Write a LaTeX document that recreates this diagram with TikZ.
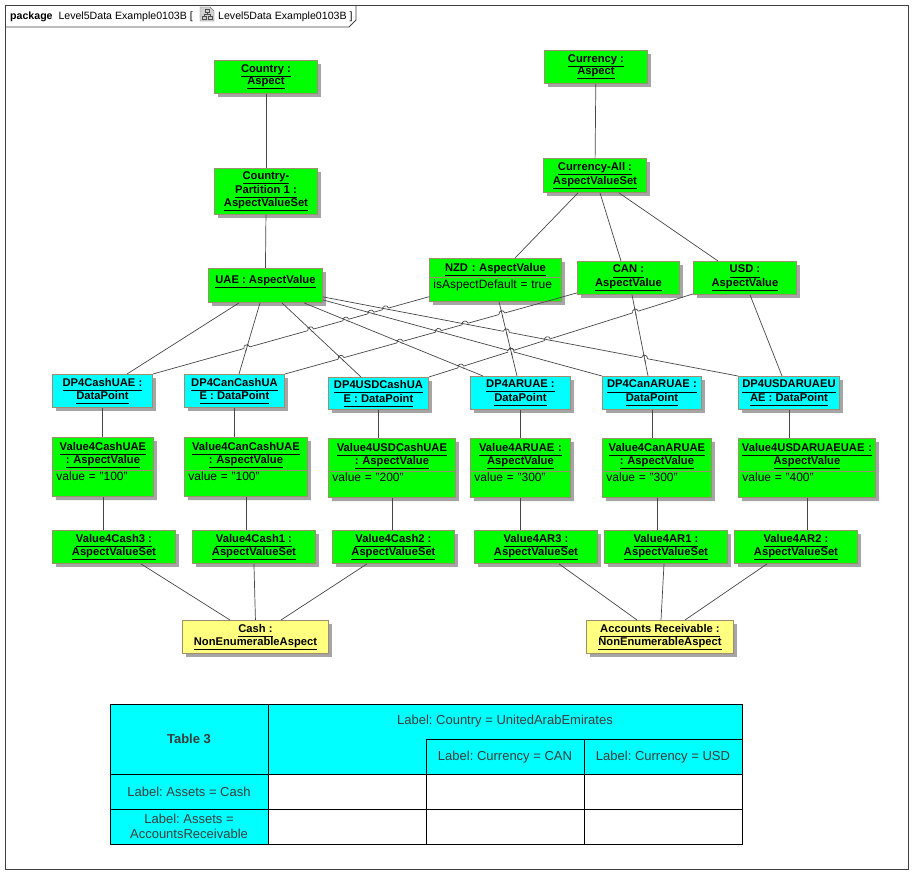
\documentclass[tikz,border=0pt]{standalone}
\usepackage{fontspec}
\setmainfont{Liberation Sans}
\usetikzlibrary{shapes.multipart, shadows, calc}
\frenchspacing

\definecolor{umlgreen}{RGB}{0,255,0}
\definecolor{umlcyan}{RGB}{0,255,255}
\definecolor{umlyellow}{RGB}{255,255,128}
\definecolor{umlborder}{RGB}{160,140,110}
\definecolor{umlshadow}{RGB}{165,165,165}
\definecolor{umlline}{RGB}{70,70,70}
\definecolor{frameline}{RGB}{64,64,64}
\definecolor{tabletext}{RGB}{60,60,60}

\newcommand{\uname}[1]{\underline{#1\vphantom{Ap}}}
\newcommand{\titlestrut}{\rule{0pt}{11pt}}
\newcommand{\valuestrut}{\rule[-14pt]{0pt}{12pt}}
\newcommand{\titleline}[1]{\hbox to \hsize{\hss\uname{#1}\hss}}
\newcommand{\valuepart}{\nodepart{two}\mdseries\fontsize{12}{14}\selectfont}

\tikzset{
	umlbox/.style = {draw = umlborder,
					 line width = 0.9pt,
					 shape = rectangle,
					 inner sep = 1.5pt,
					 align = center,
					 anchor = north west,
					 font = \fontsize{11.2}{12.3}\selectfont\bfseries,
					 drop shadow = {shadow xshift = 3.5pt,
									shadow yshift = -3.5pt,
									fill = umlshadow,
									opacity = 1}},
	greenbox/.style = {umlbox, fill = umlgreen},
	cyanbox/.style = {umlbox, fill = umlcyan},
	yellowbox/.style = {umlbox, fill = umlyellow},
	valuebox/.style = {greenbox,
					   rectangle split,
					   rectangle split parts = 2,
					   inner xsep = 4pt,
					   align = left},
	link/.style = {draw = umlline, line width = 0.7pt},
	cell/.style = {font = \fontsize{13}{15}\selectfont,
				   text = tabletext,
				   align = center}
}

% #1,#2: west and east end of the line that jumps, #3,#4: ends of the line below it
\newcommand{\linehop}[4]{
	\coordinate (hopx) at (intersection of #1--#2 and #3--#4);
	\draw[draw = white, line width = 2.5pt] ($(hopx)!3pt!(#1)$) -- ($(hopx)!3pt!(#2)$);
	\draw[link] ($(hopx)!4pt!(#3)$) -- ($(hopx)!4pt!(#4)$);
	\draw[link] ($(hopx)!3pt!(#1)$) .. controls ($(hopx)!3pt!(#1)!4pt!90:(hopx)$)
		and ($(hopx)!3pt!(#2)!4pt!-90:(hopx)$) .. ($(hopx)!3pt!(#2)$);
}

\begin{document}
\begin{tikzpicture}[x = 1pt, y = -1pt]

	\useasboundingbox (0,0) rectangle (923,884);

	\draw[draw = frameline, line width = 0.9pt] (5,5) rectangle (908,869);
	\draw[draw = frameline, line width = 0.9pt] (5,27) -- (349,27) -- (356,20) -- (356,5);
	\draw (10,19) node[anchor = base west,
					   inner sep = 0pt,
					   font = \fontsize{10.6}{13}\selectfont] (pkgtitle)
			{\textbf{package}\ \ Level5Data Example0103B [};
	\draw[draw = black!55, fill = black!18] (200,7) -- (210,7) -- (214,11) -- (214,21) -- (200,21) -- cycle;
	\draw[draw = black!70, line width = 0.5pt] (205,9) rectangle (209,12)
		(202,16) rectangle (206,19) (208,16) rectangle (212,19)
		(207,12) -- (207,14) (204,14) -- (210,14) (204,14) -- (204,16) (210,14) -- (210,16);
	\draw (218,19) node[anchor = base west,
						inner sep = 0pt,
						font = \fontsize{10.6}{13}\selectfont] (pkgname)
			{Level5Data Example0103B ]};

	\draw (214,60) node[greenbox,
						minimum width = 103pt,
						minimum height = 33pt] (CountryAspect) {\uname{Country :}\\\uname{Aspect}};
	\draw (214,168) node[greenbox,
						 minimum width = 103pt,
						 minimum height = 46pt] (CountryPartition)
			{\uname{Country-}\\\uname{Partition 1 :}\\\uname{AspectValueSet}};
	\draw (544,50) node[greenbox,
						minimum width = 103pt,
						minimum height = 33pt] (CurrencyAspect) {\uname{Currency :}\\\uname{Aspect}};
	\draw (543,158) node[greenbox,
						 minimum width = 103pt,
						 minimum height = 34pt] (CurrencyAll) {\uname{Currency-All :}\\\uname{AspectValueSet}};

	\draw (208,268) node[greenbox,
						 minimum width = 114pt,
						 minimum height = 34pt] (UAE) {\uname{UAE : AspectValue}\\\mbox{}};
	\draw (429,258) node[valuebox,
						 text width = 124pt] (NZD)
			{\titlestrut\titleline{NZD : AspectValue}
			 \valuepart\rule[-11pt]{0pt}{12pt}isAspectDefault = true};
	\draw (577,261) node[greenbox,
						 minimum width = 102pt,
						 minimum height = 33pt] (CAN) {\uname{CAN :}\\\uname{AspectValue}};
	\draw (693,261) node[greenbox,
						 minimum width = 103pt,
						 minimum height = 33pt] (USD) {\uname{USD :}\\\uname{AspectValue}};

	\draw (52,374) node[cyanbox,
						minimum width = 100pt,
						minimum height = 33pt] (DPCashUAE) {\uname{DP4CashUAE :}\\\uname{DataPoint}};
	\draw (184,374) node[cyanbox,
						 minimum width = 100pt,
						 minimum height = 33pt] (DPCanCashUAE) {\uname{DP4CanCashUA}\\\uname{E : DataPoint}};
	\draw (328,377) node[cyanbox,
						 minimum width = 100pt,
						 minimum height = 32pt] (DPUSDCashUAE) {\uname{DP4USDCashUA}\\\uname{E : DataPoint}};
	\draw (470,376) node[cyanbox,
						 minimum width = 100pt,
						 minimum height = 33pt] (DPARUAE) {\uname{DP4ARUAE :}\\\uname{DataPoint}};
	\draw (602,376) node[cyanbox,
						 minimum width = 99pt,
						 minimum height = 33pt] (DPCanARUAE) {\uname{DP4CanARUAE :}\\\uname{DataPoint}};
	\draw (738,376) node[cyanbox,
						 minimum width = 101pt,
						 minimum height = 33pt] (DPUSDARUAE) {\uname{DP4USDARUAEU}\\\uname{AE : DataPoint}};

	\draw (52,437) node[valuebox,
						text width = 93pt] (ValCashUAE)
			{\titlestrut\titleline{Value4CashUAE}\\\titleline{: AspectValue}
			 \valuepart\valuestrut value = "100"};
	\draw (184,437) node[valuebox,
						 text width = 115pt] (ValCanCashUAE)
			{\titlestrut\titleline{Value4CanCashUAE}\\\titleline{: AspectValue}
			 \valuepart\valuestrut value = "100"};
	\draw (328,438) node[valuebox,
						 text width = 119pt] (ValUSDCashUAE)
			{\titlestrut\titleline{Value4USDCashUAE}\\\titleline{: AspectValue}
			 \valuepart\valuestrut value = "200"};
	\draw (470,438) node[valuebox,
						 text width = 92pt] (ValARUAE)
			{\titlestrut\titleline{Value4ARUAE :}\\\titleline{AspectValue}
			 \valuepart\valuestrut value = "300"};
	\draw (602,438) node[valuebox,
						 text width = 101pt] (ValCanARUAE)
			{\titlestrut\titleline{Value4CanARUAE}\\\titleline{: AspectValue}
			 \valuepart\valuestrut value = "300"};
	\draw (738,438) node[valuebox,
						 inner xsep = 1.5pt,
						 text width = 134pt] (ValUSDARUAE)
			{\titlestrut\titleline{Value4USDARUAEUAE :}\\\titleline{AspectValue}
			 \valuepart\valuestrut\hspace*{2.5pt}value = "400"};

	\draw (52,530) node[greenbox,
						minimum width = 123pt,
						minimum height = 33pt] (SetCash3) {\uname{Value4Cash3 :}\\\uname{AspectValueSet}};
	\draw (192,530) node[greenbox,
						 minimum width = 123pt,
						 minimum height = 33pt] (SetCash1) {\uname{Value4Cash1 :}\\\uname{AspectValueSet}};
	\draw (332,530) node[greenbox,
						 minimum width = 122pt,
						 minimum height = 33pt] (SetCash2) {\uname{Value4Cash2 :}\\\uname{AspectValueSet}};
	\draw (474,530) node[greenbox,
						 minimum width = 123pt,
						 minimum height = 33pt] (SetAR3) {\uname{Value4AR3 :}\\\uname{AspectValueSet}};
	\draw (604,530) node[greenbox,
						 minimum width = 123pt,
						 minimum height = 33pt] (SetAR1) {\uname{Value4AR1 :}\\\uname{AspectValueSet}};
	\draw (734,530) node[greenbox,
						 minimum width = 123pt,
						 minimum height = 33pt] (SetAR2) {\uname{Value4AR2 :}\\\uname{AspectValueSet}};

	\draw (182,620) node[yellowbox,
						 minimum width = 146pt,
						 minimum height = 33pt] (Cash) {\uname{Cash :}\\\uname{NonEnumerableAspect}};
	\draw (586,620) node[yellowbox,
						 minimum width = 147pt,
						 minimum height = 33pt] (AccRec) {\uname{Accounts Receivable :}\\\uname{NonEnumerableAspect}};

	\draw[link] (CountryAspect) -- (CountryPartition);
	\draw[link] (CountryPartition.south) -- (UAE.north);
	\draw[link] (CurrencyAspect) -- (CurrencyAll);
	\draw[link] ([xshift = 35pt]CurrencyAll.south west) -- ([xshift = 86pt]NZD.north west);
	\draw[link] ([xshift = 57pt]CurrencyAll.south west) -- ([xshift = 44pt]CAN.north west);
	\draw[link] ([xshift = 76pt]CurrencyAll.south west) -- ([xshift = 25pt]USD.north west);

	\draw[link] ([xshift = 31pt]UAE.south west) -- ([xshift = 75pt]DPCashUAE.north west);
	\draw[link] ([xshift = 52pt]UAE.south west) coordinate (uae2t)
		-- ([xshift = 55pt]DPCanCashUAE.north west) coordinate (uae2b);
	\draw[link] ([xshift = 74pt]UAE.south west) coordinate (uae3t)
		-- ([xshift = 33pt]DPUSDCashUAE.north west) coordinate (uae3b);
	\draw[link] ([xshift = 96pt]UAE.south west) coordinate (uae4t)
		-- ([xshift = 13pt]DPARUAE.north west) coordinate (uae4b);
	\draw[link] ([yshift = 3pt]UAE.south east) coordinate (uae5t)
		-- (DPCanARUAE.north west) coordinate (uae5b);
	\draw[link] ([yshift = 6pt]UAE.south east) coordinate (uae6t)
		-- (DPUSDARUAE.north west) coordinate (uae6b);
	\draw[link] ([yshift = 5pt]NZD.south west) coordinate (nzd1t)
		-- (DPCashUAE.north east) coordinate (nzd1b);
	\draw[link] ([xshift = 70pt]NZD.south west) coordinate (nzd2t)
		-- ([xshift = 47pt]DPARUAE.north west) coordinate (nzd2b);
	\draw[link] ([yshift = 2pt]CAN.south west) coordinate (can1t)
		-- (DPCanCashUAE.north east) coordinate (can1b);
	\draw[link] ([xshift = 55pt]CAN.south west) coordinate (can2t)
		-- ([xshift = 46pt]DPCanARUAE.north west) coordinate (can2b);
	\draw[link] ([yshift = 1pt]USD.south west) coordinate (usd1t)
		-- (DPUSDCashUAE.north east) coordinate (usd1b);
	\draw[link] ([xshift = 57pt]USD.south west) -- ([xshift = 44pt]DPUSDARUAE.north west);

	\foreach \under in {uae2, uae3, uae4, uae5, uae6} {
		\linehop{nzd1b}{nzd1t}{\under t}{\under b}
	}
	\foreach \under in {uae3, uae4, uae5, uae6, nzd2} {
		\linehop{can1b}{can1t}{\under t}{\under b}
	}
	\foreach \under in {uae4, uae5, uae6, nzd2, can2} {
		\linehop{usd1b}{usd1t}{\under t}{\under b}
	}
	\linehop{uae5t}{uae5b}{nzd2t}{nzd2b}
	\linehop{uae6t}{uae6b}{nzd2t}{nzd2b}
	\linehop{uae6t}{uae6b}{can2t}{can2b}

	\draw[link] (DPCashUAE.south) -- (DPCashUAE.south |- ValCashUAE.north);
	\draw[link] (DPCanCashUAE.south) -- (DPCanCashUAE.south |- ValCanCashUAE.north);
	\draw[link] (DPUSDCashUAE.south) -- (DPUSDCashUAE.south |- ValUSDCashUAE.north);
	\draw[link] (DPARUAE.south) -- (DPARUAE.south |- ValARUAE.north);
	\draw[link] (DPCanARUAE.south) -- (DPCanARUAE.south |- ValCanARUAE.north);
	\draw[link] (DPUSDARUAE.south) -- (DPUSDARUAE.south |- ValUSDARUAE.north);

	\draw[link] (ValCashUAE.south) -- (ValCashUAE.south |- SetCash3.north);
	\draw[link] (ValCanCashUAE.south) -- (ValCanCashUAE.south |- SetCash1.north);
	\draw[link] (ValUSDCashUAE.south) -- (ValUSDCashUAE.south |- SetCash2.north);
	\draw[link] (ValARUAE.south) -- (ValARUAE.south |- SetAR3.north);
	\draw[link] (ValCanARUAE.south) -- (ValCanARUAE.south |- SetAR1.north);
	\draw[link] (ValUSDARUAE.south) -- (ValUSDARUAE.south |- SetAR2.north);

	\draw[link] ([xshift = 89pt]SetCash3.south west) -- ([xshift = 48pt]Cash.north west);
	\draw[link] (SetCash1.south) -- (Cash.north);
	\draw[link] ([xshift = 35pt]SetCash2.south west) -- ([xshift = 99pt]Cash.north west);
	\draw[link] ([xshift = 85pt]SetAR3.south west) -- ([xshift = 51pt]AccRec.north west);
	\draw[link] ([xshift = 60pt]SetAR1.south west) -- ([xshift = 75pt]AccRec.north west);
	\draw[link] ([xshift = 33pt]SetAR2.south west) -- ([xshift = 99pt]AccRec.north west);

	\fill[umlcyan] (110,704) rectangle (742,774);
	\fill[umlcyan] (110,774) rectangle (268,844);
	\draw[line width = 0.9pt] (110,704) rectangle (742,844);
	\draw[line width = 0.9pt] (268,704) -- (268,844)
		(426,739) -- (426,844) (584,739) -- (584,844)
		(426,739) -- (742,739) (110,774) -- (742,774) (110,809) -- (742,809);
	\draw (189,739) node[cell, font = \fontsize{13}{15}\selectfont\bfseries] (TableName) {Table 3};
	\draw (505,721) node[cell] (CountryLabel) {Label: Country = UnitedArabEmirates};
	\draw (505,757) node[cell] (CanLabel) {Label: Currency = CAN};
	\draw (663,757) node[cell] (UsdLabel) {Label: Currency = USD};
	\draw (189,792) node[cell] (CashLabel) {Label: Assets = Cash};
	\draw (189,826) node[cell] (ArLabel) {Label: Assets =\\AccountsReceivable};
\end{tikzpicture}
\end{document}
